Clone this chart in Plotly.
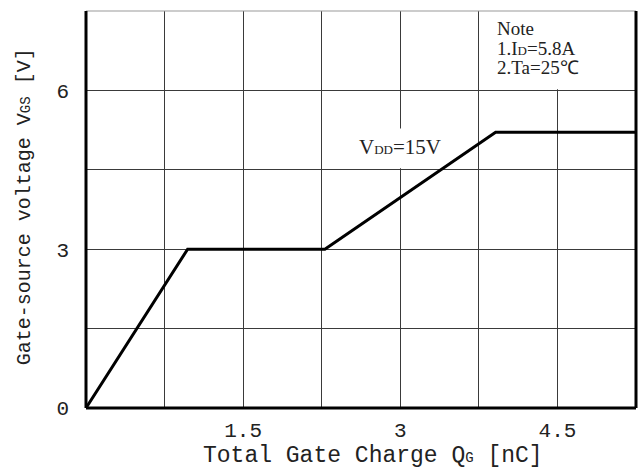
import plotly.graph_objects as go

# Data
qg_nc = [0.0, 0.97, 2.28, 3.91, 5.25]
vgs_v = [0.0, 3.0, 3.0, 5.21, 5.21]

x_tick_vals = [0, 0.75, 1.5, 2.25, 3.0, 3.75, 4.5, 5.25]
x_tick_text = ["", "", "1.5", "", "3", "", "4.5", ""]
y_tick_vals = [0, 1.5, 3.0, 4.5, 6.0, 7.5]
y_tick_text = ["0", "", "3", "", "6", ""]

note_lines = ["Note",
              "1.I<span style='font-size:13px'>D</span>=5.8A",
              "2.Ta=25℃"]
vdd_label = "V<span style='font-size:13px'>DD</span>=15V"

MONO = "Liberation Mono"
SERIF = "Liberation Serif"

fig = go.Figure()
fig.add_trace(go.Scatter(
    x=qg_nc, y=vgs_v, mode="lines",
    line=dict(color="black", width=3),
    hoverinfo="skip", showlegend=False,
))

fig.update_layout(
    width=640, height=470,
    margin=dict(l=86, r=4, t=11, b=62),
    paper_bgcolor="white", plot_bgcolor="white",
    font=dict(family=MONO, size=21, color="#222"),
    xaxis=dict(
        range=[0, 5.25], tickmode="array",
        tickvals=x_tick_vals, ticktext=x_tick_text,
        showgrid=True, gridcolor="#3a3a3a", gridwidth=1,
        zeroline=False, showline=False, ticks="",
        ticklabelstandoff=7,
        tickfont=dict(family=MONO, size=21, color="#222"),
    ),
    yaxis=dict(
        range=[0, 7.5], tickmode="array",
        tickvals=y_tick_vals, ticktext=y_tick_text,
        showgrid=True, gridcolor="#3a3a3a", gridwidth=1,
        zeroline=False, showline=False, ticks="",
        ticklabelstandoff=16,
        tickfont=dict(family=MONO, size=21, color="#222"),
    ),
)

shapes = [
    # white box behind the note
    dict(type="rect", xref="x", yref="y", x0=3.765, x1=5.25, y0=6.02, y1=7.5,
         fillcolor="white", line=dict(width=0), layer="between"),
    # white box behind the VDD label
    dict(type="rect", xref="x", yref="y", x0=2.62, x1=3.42, y0=4.53, y1=5.28,
         fillcolor="white", line=dict(width=0), layer="between"),
    # frame
    dict(type="line", xref="paper", yref="paper", x0=0, x1=1, y0=1, y1=1,
         line=dict(color="#999", width=1), layer="above"),
    dict(type="line", xref="paper", yref="paper", x0=0, x1=0, y0=0, y1=1,
         line=dict(color="black", width=3), layer="above"),
    dict(type="line", xref="paper", yref="paper", x0=1, x1=1, y0=0, y1=1,
         line=dict(color="black", width=3), layer="above"),
    dict(type="line", xref="paper", yref="paper", x0=0, x1=1, y0=0, y1=0,
         line=dict(color="black", width=3), layer="above"),
]
fig.update_layout(shapes=shapes)

note_text = "<br>".join(f"<span style='font-size:19px'>{ln}</span>" for ln in note_lines)

annotations = [
    dict(text="Total Gate Charge Q<span style='font-size:14px'>G</span> [nC]",
         xref="paper", yref="paper", x=0.521, y=-0.122,
         xanchor="center", yanchor="middle", showarrow=False,
         font=dict(family=MONO, size=23, color="#222")),
    dict(text="Gate-source voltage V<span style='font-size:14px'>GS</span> [V]",
         xref="paper", yref="paper", x=-0.113, y=0.508, textangle=-90,
         xanchor="center", yanchor="middle", showarrow=False,
         font=dict(family=MONO, size=20, color="#222")),
    dict(text=vdd_label, xref="x", yref="y", x=3.0, y=4.93,
         xanchor="center", yanchor="middle", showarrow=False,
         font=dict(family=SERIF, size=21, color="#222")),
    dict(text=note_text, xref="x", yref="y", x=3.9, y=7.41,
         xanchor="left", yanchor="top", align="left", showarrow=False,
         font=dict(family=SERIF, size=15, color="#222")),
]
fig.update_layout(annotations=annotations)

fig.write_html("out.html")
